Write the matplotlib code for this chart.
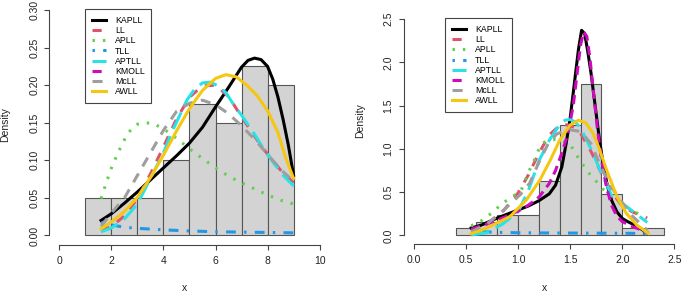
import numpy as np
import matplotlib.pyplot as plt
from matplotlib.lines import Line2D

plt.rcParams['font.family'] = ['Liberation Sans', 'DejaVu Sans']

# ---- left panel data ----
L_edges = [1, 2, 3, 4, 5, 6, 7, 8, 9]
L_dens = [0.05, 0.05, 0.05, 0.10, 0.175, 0.15, 0.225, 0.20]

L_kapll_x = [1.6, 2.0, 2.5, 3.0, 3.5, 4.0, 4.5, 5.0, 5.5, 6.0, 6.5, 7.0, 7.25, 7.5, 7.75, 8.0, 8.2, 8.4, 8.6, 8.8, 9.0]
L_kapll_y = [.020, .029, .043, .058, .074, .090, .106, .123, .144, .171, .197, .224, .233, .236, .234, .225, .208, .184, .154, .120, .080]
L_ll_x = [1.6, 2.0, 2.5, 3.0, 3.5, 4.0, 4.5, 5.0, 5.5, 6.0, 6.5, 7.0, 7.5, 8.0, 8.5, 9.0]
L_ll_y = [.006, .012, .026, .049, .082, .118, .155, .184, .199, .200, .185, .158, .132, .108, .087, .070]
L_apll_x = [1.6, 1.8, 2.0, 2.2, 2.4, 2.6, 2.8, 3.0, 3.3, 3.6, 4.0, 4.4, 4.8, 5.2, 5.6, 6.0, 6.5, 7.0, 7.5, 8.0, 8.5, 9.0]
L_apll_y = [.049, .070, .090, .106, .121, .134, .143, .148, .150, .149, .142, .132, .121, .110, .100, .090, .079, .070, .062, .054, .047, .042]
L_tll_x = [1.6, 2.0, 2.5, 3.0, 4.0, 5.0, 6.0, 7.0, 8.0, 9.0]
L_tll_y = [.017, .014, .011, .0095, .0075, .006, .005, .0045, .004, .0035]
L_aptll_x = [1.6, 2.0, 2.5, 3.0, 3.5, 4.0, 4.3, 4.6, 4.9, 5.2, 5.5, 5.8, 6.1, 6.4, 6.7, 7.0, 7.4, 7.8, 8.2, 8.6, 9.0]
L_aptll_y = [.005, .010, .022, .042, .076, .110, .136, .158, .180, .195, .203, .204, .199, .190, .174, .160, .140, .118, .098, .080, .066]
L_mcll_x = [1.6, 2.0, 2.5, 3.0, 3.5, 4.0, 4.5, 5.0, 5.5, 6.0, 6.5, 7.0, 7.5, 8.0, 8.5, 9.0]
L_mcll_y = [.012, .030, .050, .080, .110, .140, .165, .176, .180, .174, .162, .146, .128, .108, .088, .072]
L_awll_x = [1.6, 2.0, 2.5, 3.0, 3.5, 4.0, 4.5, 5.0, 5.5, 6.0, 6.4, 6.8, 7.2, 7.6, 8.0, 8.4, 8.7, 9.0]
L_awll_y = [.009, .018, .032, .051, .077, .107, .139, .169, .193, .209, .214, .211, .200, .186, .166, .137, .103, .076]

# ---- right panel data ----
R_edges = [0.4, 0.6, 0.8, 1.0, 1.2, 1.4, 1.6, 1.8, 2.0, 2.2, 2.4]
R_dens = [0.08, 0.16, 0.24, 0.24, 0.63, 1.27, 1.75, 0.48, 0.08, 0.08]

R_kapll_x = [0.55, 0.65, 0.8, 0.95, 1.1, 1.2, 1.3, 1.36, 1.42, 1.46, 1.5, 1.54, 1.58, 1.61, 1.64, 1.67, 1.70, 1.74, 1.78, 1.82, 1.86, 1.9, 1.95, 2.0, 2.05, 2.1, 2.16, 2.24]
R_kapll_y = [.085, .12, .20, .27, .34, .40, .48, .58, .79, 1.05, 1.35, 1.75, 2.15, 2.37, 2.33, 2.12, 1.88, 1.50, 1.12, 0.80, 0.56, 0.40, 0.27, 0.196, 0.16, 0.13, 0.09, 0.03]
R_ll_x = [0.55, 0.7, 0.85, 1.0, 1.1, 1.2, 1.3, 1.4, 1.45, 1.5, 1.55, 1.6, 1.7, 1.8, 1.9, 2.0, 2.1, 2.24]
R_ll_y = [.06, .13, .27, .49, .70, .95, 1.16, 1.27, 1.28, 1.27, 1.24, 1.18, 0.97, 0.72, 0.50, 0.34, 0.27, 0.20]
R_apll_x = [0.55, 0.65, 0.75, 0.85, 0.95, 1.03, 1.07, 1.11, 1.15, 1.19, 1.24, 1.3, 1.36, 1.42, 1.5, 1.56, 1.62, 1.68, 1.74, 1.81, 1.88, 1.96, 2.05, 2.14, 2.22]
R_apll_y = [.11, .17, .26, .37, .45, .52, .64, .755, .85, .97, 1.07, 1.10, 1.11, 1.10, 1.05, 0.93, 0.82, 0.72, 0.64, 0.54, 0.46, 0.39, 0.32, 0.26, 0.215]
R_tll_x = [0.55, 0.6, 0.8, 1.0, 1.2, 1.4, 1.6, 1.8, 2.0, 2.24]
R_tll_y = [.05, .045, .035, .03, .028, .027, .026, .025, .024, .022]
R_aptll_x = [0.55, 0.7, 0.85, 1.0, 1.1, 1.2, 1.3, 1.4, 1.45, 1.5, 1.55, 1.6, 1.7, 1.8, 1.9, 2.0, 2.1, 2.24]
R_aptll_y = [.005, .03, .13, .27, .52, .86, 1.10, 1.28, 1.33, 1.34, 1.31, 1.24, 1.00, 0.72, 0.46, 0.37, 0.28, 0.15]
R_kmoll_x = [0.55, 0.7, 0.85, 1.0, 1.1, 1.2, 1.3, 1.36, 1.42, 1.48, 1.53, 1.57, 1.6, 1.63, 1.66, 1.69, 1.72, 1.76, 1.8, 1.85, 1.9, 1.95, 2.0, 2.1, 2.19, 2.24]
R_kmoll_y = [.07, .13, .20, .28, .35, .44, .60, .75, .95, 1.18, 1.50, 1.90, 2.2, 2.35, 2.30, 2.05, 1.70, 1.25, 0.88, 0.55, 0.34, 0.22, 0.16, 0.10, 0.06, 0.035]
R_mcll_x = [0.55, 0.7, 0.86, 1.02, 1.11, 1.21, 1.29, 1.37, 1.45, 1.5, 1.6, 1.7, 1.8, 1.9, 2.0, 2.1, 2.24]
R_mcll_y = [.04, .13, .29, .47, .60, .87, 1.06, 1.17, 1.21, 1.22, 1.20, 1.06, 0.78, 0.55, 0.38, 0.22, 0.06]
R_awll_x = [0.55, 0.65, 0.76, 0.92, 1.08, 1.21, 1.31, 1.40, 1.50, 1.58, 1.65, 1.72, 1.78, 1.85, 1.95, 2.04, 2.14, 2.25]
R_awll_y = [.02, .06, .12, .215, .41, .64, .87, 1.10, 1.275, 1.33, 1.30, 1.18, 1.00, 0.755, 0.446, 0.254, 0.119, 0.023]

names = ['KAPLL', 'LL', 'APLL', 'TLL', 'APTLL', 'KMOLL', 'McLL', 'AWLL']
colors = ['#000000', '#DF536B', '#61D04F', '#2297E6', '#28E2E5', '#CD0BBC', '#9E9E9E', '#F5C710']
styles = ['-', (0, (3, 3)), (0, (0.8, 2.6)), (0, (0.8, 2.7, 3.2, 2.7)),
          (0, (6, 2.5)), (0, (3, 1.8)), (0, (3.3, 2.7)), '-']
LW = 2.2
AX_COL = '#444444'
FS = 7.5

left_curves = [(L_kapll_x, L_kapll_y), (L_ll_x, L_ll_y), (L_apll_x, L_apll_y), (L_tll_x, L_tll_y),
               (L_aptll_x, L_aptll_y), None, (L_mcll_x, L_mcll_y), (L_awll_x, L_awll_y)]
right_curves = [(R_kapll_x, R_kapll_y), (R_ll_x, R_ll_y), (R_apll_x, R_apll_y), (R_tll_x, R_tll_y),
                (R_aptll_x, R_aptll_y), (R_kmoll_x, R_kmoll_y), (R_mcll_x, R_mcll_y), (R_awll_x, R_awll_y)]

fig = plt.figure(figsize=(6.85, 2.94), dpi=100)
ax1 = fig.add_axes([49 / 685, (294 - 244.5) / 294, 281 / 685, 243.5 / 294])
ax2 = fig.add_axes([403.5 / 685, (294 - 244) / 294, 281.2 / 685, 233.6 / 294])


def panel(ax, edges, dens, curves, xlim, ylim, xticks, yticks, xfmt, yfmt, leg_xy):
    ax.bar(edges[:-1], dens, width=np.diff(edges), align='edge',
           color='#D3D3D3', edgecolor='#555555', linewidth=0.8)
    for c, col, ls in zip(curves, colors, styles):
        if c is None:
            continue
        ax.plot(c[0], c[1], color=col, linestyle=ls, linewidth=LW)
    pad_x = 0.04 * (xlim[1] - xlim[0])
    pad_y = 0.04 * (ylim[1] - ylim[0])
    ax.set_xlim(xlim[0] - pad_x, xlim[1] + pad_x)
    ax.set_ylim(ylim[0] - pad_y, ylim[1] + pad_y)
    for s in ['top', 'right']:
        ax.spines[s].set_visible(False)
    ax.spines['left'].set_bounds(yticks[0], yticks[-1])
    ax.spines['bottom'].set_bounds(xticks[0], xticks[-1])
    for s in ['left', 'bottom']:
        ax.spines[s].set_color(AX_COL)
        ax.spines[s].set_linewidth(0.8)
    ax.set_xticks(xticks)
    ax.set_xticklabels([xfmt.format(v) for v in xticks])
    ax.set_yticks(yticks)
    ax.set_yticklabels([yfmt.format(v) for v in yticks], rotation=90, va='center')
    ax.tick_params(direction='out', length=3.6, width=0.8, color=AX_COL,
                   labelsize=FS, labelcolor='#222222')
    ax.tick_params(axis='x', pad=4.5)
    ax.tick_params(axis='y', pad=3.5)
    ax.set_xlabel('x', fontsize=FS, color='#222222')
    ax.set_ylabel('Density', fontsize=FS, color='#222222')
    handles = [Line2D([], [], color=col, linestyle=ls, linewidth=LW) for col, ls in zip(colors, styles)]
    leg = ax.legend(handles, names, loc='upper left', bbox_to_anchor=leg_xy, borderaxespad=0,
                    fontsize=6.3, handlelength=1.6, handletextpad=1.1, labelspacing=0.14,
                    borderpad=0.75, fancybox=False, framealpha=1, edgecolor=AX_COL)
    leg.get_frame().set_linewidth(0.8)


panel(ax1, L_edges, L_dens, left_curves, (0, 10), (0, 0.3),
      [0, 2, 4, 6, 8, 10], [0.0, 0.05, 0.10, 0.15, 0.20, 0.25, 0.30], '{:g}', '{:.2f}', (0.128, 0.966))
panel(ax2, R_edges, R_dens, right_curves, (0, 2.5), (0, 2.5),
      [0.0, 0.5, 1.0, 1.5, 2.0, 2.5], [0.0, 0.5, 1.0, 1.5, 2.0, 2.5], '{:.1f}', '{:.1f}', (0.1476, 0.966))

ax1.xaxis.set_label_coords(135 / 281, -(288 - 244.5) / 243.5)
ax1.yaxis.set_label_coords(-(49 - 5) / 281, (244.5 - 125) / 243.5)
ax2.xaxis.set_label_coords((545 - 403.5) / 281.2, -(288 - 244) / 233.6)
ax2.yaxis.set_label_coords(-(403.5 - 360) / 281.2, (244 - 121) / 233.6)
for a in (ax1, ax2):
    a.xaxis.label.set_va('center')
    a.yaxis.label.set_va('center')

fig.savefig('out.png', dpi=100)
